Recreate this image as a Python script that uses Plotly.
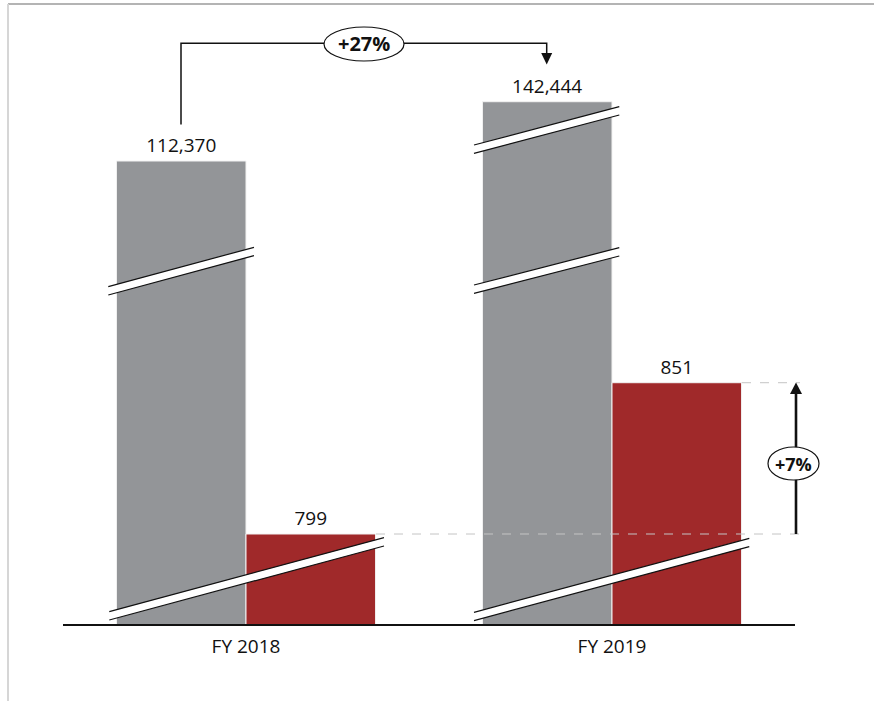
import plotly.graph_objects as go

# ---- data ----
categories = ["FY 2018", "FY 2019"]
total_values = [112370, 142444]
segment_values = [799, 851]
total_labels = ["112,370", "142,444"]
segment_labels = ["799", "851"]
growth_total_label = "+27%"
growth_segment_label = "+7%"

# ---- layout constants ----
W, H = 874, 701
ML, MR, MT, MB = 63, 79, 20, 77
PW = W - ML - MR
PH = H - MT - MB
GRAY = "#939598"
RED = "#A0292A"
FONT = "Open Sans"
TXT = "#111111"

# hidden (broken) value scales
GRAY_RANGE_LOG = [4.2463, 5.2956]
RED_RANGE = [768.07, 975.66]


def xp(px):
    return (px - ML) / PW


def yp(py):
    return (H - MB - py) / PH


fig = go.Figure()
fig.add_trace(go.Bar(
    x=categories, y=total_values, yaxis="y", offsetgroup="total",
    marker=dict(color=GRAY, line=dict(color="#f2f2f2", width=1)),
    text=total_labels, textposition="outside",
    textfont=dict(family=FONT, size=19, color=TXT),
    hoverinfo="skip", showlegend=False,
))
fig.add_trace(go.Bar(
    x=categories, y=segment_values, yaxis="y2", offsetgroup="segment",
    marker=dict(color=RED, line=dict(color="#f2f2f2", width=1)),
    text=segment_labels, textposition="outside",
    textfont=dict(family=FONT, size=19, color=TXT),
    hoverinfo="skip", showlegend=False,
))

shapes = []

# frame lines
shapes.append(dict(type="line", xref="paper", yref="paper", x0=xp(8), x1=xp(874), y0=yp(4), y1=yp(4),
                   line=dict(color="#b4b4b4", width=2)))
shapes.append(dict(type="line", xref="paper", yref="paper", x0=xp(8), x1=xp(8), y0=yp(4), y1=yp(701),
                   line=dict(color="#d6d6d6", width=2)))

# dashed reference lines at segment values
shapes.append(dict(type="line", xref="paper", yref="y2", x0=xp(376), x1=xp(800),
                   y0=segment_values[0], y1=segment_values[0],
                   line=dict(color="#c4c4c4", width=1, dash="dash")))
shapes.append(dict(type="line", xref="paper", yref="y2", x0=xp(742), x1=xp(800),
                   y0=segment_values[1], y1=segment_values[1],
                   line=dict(color="#c4c4c4", width=1, dash="dash")))

# broken-axis marks: (x_left, y_left) -> (x_right, y_right), band thickness
BAND = 8.3
breaks = [
    (108.3, 286.7, 254.0, 247.3),
    (474.0, 145.0, 619.3, 106.7),
    (474.0, 285.0, 619.3, 247.7),
    (109.3, 611.7, 384.0, 537.7),
    (474.0, 612.3, 749.3, 538.3),
]
for (xa, ya, xb, yb) in breaks:
    path = "M {} {} L {} {} L {} {} L {} {} Z".format(
        xp(xa), yp(ya), xp(xb), yp(yb), xp(xb), yp(yb + BAND), xp(xa), yp(ya + BAND))
    shapes.append(dict(type="path", xref="paper", yref="paper", path=path,
                       fillcolor="white", line=dict(width=0)))
    shapes.append(dict(type="line", xref="paper", yref="paper", x0=xp(xa), y0=yp(ya), x1=xp(xb), y1=yp(yb),
                       line=dict(color="#111111", width=1.2)))
    shapes.append(dict(type="line", xref="paper", yref="paper", x0=xp(xa), y0=yp(ya + BAND), x1=xp(xb),
                       y1=yp(yb + BAND), line=dict(color="#111111", width=1.2)))

# +27% bracket
bracket = "M {} {} L {} {} L {} {} L {} {}".format(
    xp(181), yp(124.5), xp(181), yp(43.3), xp(546.7), yp(43.3), xp(546.7), yp(54))
shapes.append(dict(type="path", xref="paper", yref="paper", path=bracket,
                   line=dict(color="#111111", width=1.5)))
shapes.append(dict(type="path", xref="paper", yref="paper",
                   path="M {} {} L {} {} L {} {} Z".format(xp(541.2), yp(53), xp(552.2), yp(53), xp(546.7), yp(64.5)),
                   fillcolor="#111111", line=dict(width=0)))
shapes.append(dict(type="circle", xref="paper", yref="paper", x0=xp(324), x1=xp(404), y0=yp(27), y1=yp(61),
                   fillcolor="white", line=dict(color="#111111", width=1.2)))

# +7% arrow
shapes.append(dict(type="line", xref="paper", yref="y2", x0=xp(796), x1=xp(796),
                   y0=segment_values[0], y1=segment_values[1] - 3.5,
                   line=dict(color="#111111", width=2.6)))
shapes.append(dict(type="path", xref="paper", yref="paper",
                   path="M {} {} L {} {} L {} {} Z".format(xp(790), yp(394), xp(802), yp(394), xp(796), yp(382.5)),
                   fillcolor="#111111", line=dict(width=0)))
shapes.append(dict(type="circle", xref="paper", yref="paper", x0=xp(768), x1=xp(819), y0=yp(447), y1=yp(480),
                   fillcolor="white", line=dict(color="#111111", width=1.2)))

annotations = [
    dict(xref="paper", yref="paper", x=xp(364), y=yp(44), text="<b>" + growth_total_label + "</b>",
         showarrow=False, font=dict(family=FONT, size=20, color=TXT), xanchor="center", yanchor="middle"),
    dict(xref="paper", yref="paper", x=xp(793.5), y=yp(463.5), text="<b>" + growth_segment_label + "</b>",
         showarrow=False, font=dict(family=FONT, size=18, color=TXT), xanchor="center", yanchor="middle"),
]

fig.update_layout(
    width=W, height=H,
    margin=dict(l=ML, r=MR, t=MT, b=MB),
    paper_bgcolor="white", plot_bgcolor="white",
    barmode="group", bargap=0.292, bargroupgap=0,
    showlegend=False,
    font=dict(family=FONT, color=TXT),
    xaxis=dict(type="category", range=[-0.5, 1.5], showline=True, linecolor="#111111", linewidth=1.5,
               ticks="", showgrid=False, zeroline=False, tickfont=dict(family=FONT, size=19, color=TXT),
               ticklabelstandoff=4, fixedrange=True),
    yaxis=dict(type="log", range=GRAY_RANGE_LOG, visible=False, showgrid=False, zeroline=False, fixedrange=True),
    yaxis2=dict(range=RED_RANGE, overlaying="y", visible=False, showgrid=False, zeroline=False, fixedrange=True),
    shapes=shapes,
    annotations=annotations,
)

fig.write_html("out.html", config={"displayModeBar": False},
               post_script="document.body.style.margin='0';document.body.style.overflow='hidden';")
